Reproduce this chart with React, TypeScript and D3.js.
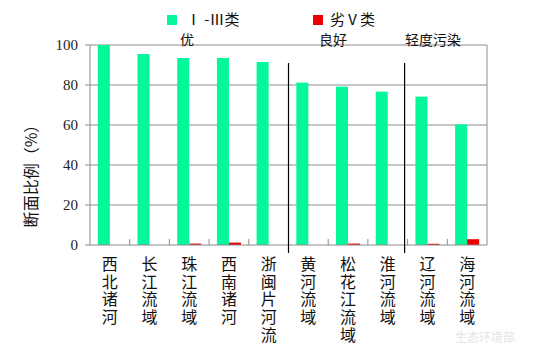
import React from "react";
import * as d3 from "d3";

const categories = ["西北诸河", "长江流域", "珠江流域", "西南诸河", "浙闽片河流", "黄河流域", "松花江流域", "淮河流域", "辽河流域", "海河流域"];
const seriesNames = ["Ⅰ-Ⅲ类", "劣Ⅴ类"];
const goodValues = [100, 95.5, 93.5, 93.5, 91.5, 81.2, 79.2, 76.7, 74.2, 60.3];
const badValues = [0, 0, 0.7, 1.2, 0, 0, 0.7, 0, 0.6, 2.9];
const yTicks = [0, 20, 40, 60, 80, 100];
const groups = [
  { label: "优", from: 0, to: 4 },
  { label: "良好", from: 5, to: 7 },
  { label: "轻度污染", from: 8, to: 9 },
];
const colors = ["#05F79C", "#EE0000"];

const W = 534, H = 352;
const left = 90, right = 487, top = 45, bottom = 245;

export default function App() {
  const x = d3.scaleBand<string>().domain(categories).range([left, right]).padding(0);
  const sub = d3.scaleBand<string>().domain(seriesNames).range([0, x.bandwidth()]).paddingInner(0).paddingOuter(0.65);
  const y = d3.scaleLinear().domain([0, 100]).range([bottom, top]);
  const cjk = "'Noto Sans CJK SC', sans-serif";
  const serif = "'Liberation Serif', 'Times New Roman', serif";
  const seps = [5, 8];
  const groupCenters = [187, 333, 433];

  return (
    <svg width={W} height={H} style={{ position: "absolute", left: 0, top: 0, background: "#fff" }}>
      <rect x={0} y={0} width={W} height={H} fill="#fff" />
      {yTicks.filter(t => t > 0).map(t => (
        <line key={t} x1={left} x2={right} y1={y(t)} y2={y(t)} stroke="#8c8c8c" strokeWidth={1} />
      ))}
      <line x1={right} x2={right} y1={top} y2={bottom} stroke="#8c8c8c" />
      {categories.map((c, i) => (
        <g key={c}>
          <rect x={x(c)! + sub(seriesNames[0])!} y={y(goodValues[i])} width={sub.bandwidth()} height={bottom - y(goodValues[i])} fill={colors[0]} />
          {badValues[i] > 0 && (
            <rect x={x(c)! + sub(seriesNames[1])!} y={y(badValues[i])} width={sub.bandwidth()} height={bottom - y(badValues[i])} fill={colors[1]} />
          )}
        </g>
      ))}
      <line x1={left} x2={left} y1={top} y2={bottom} stroke="#8c8c8c" />
      <line x1={left} x2={right} y1={bottom} y2={bottom} stroke="#8c8c8c" />
      {yTicks.map(t => (
        <g key={t}>
          <line x1={left - 5} x2={left} y1={y(t)} y2={y(t)} stroke="#8c8c8c" />
          <text x={78} y={y(t) + 5} textAnchor="end" fontFamily={serif} fontSize={15} fill="#222">{t}</text>
        </g>
      ))}
      {categories.slice(1).map(c => (
        <line key={c} x1={x(c)!} x2={x(c)!} y1={bottom - 6} y2={bottom} stroke="#8c8c8c" />
      ))}
      {seps.map((s, k) => (
        <line key={s} x1={x(categories[s])! - (k === 0 ? 0 : 3)} x2={x(categories[s])! - (k === 0 ? 0 : 3)} y1={63} y2={253} stroke="#000" strokeWidth={1.2} />
      ))}
      {groups.map((g, k) => (
        <text key={g.label} x={groupCenters[k]} y={45} textAnchor="middle" fontFamily={cjk} fontSize={14} fill="#111">{g.label}</text>
      ))}
      {categories.map(c => (
        <g key={c}>
          {Array.from(c).map((ch, j) => (
            <text key={j} x={x(c)! + x.bandwidth() / 2} y={270 + j * 17.7} fontFamily={cjk} fontSize={16} fill="#111" textAnchor="middle">{ch}</text>
          ))}
        </g>
      ))}
      <text transform={`translate(37,172) rotate(-90)`} textAnchor="middle" fontFamily={cjk} fontSize={16} fill="#111">断面比例（%）</text>
      <rect x={167} y={15} width={10} height={10} fill={colors[0]} />
      <text x={186} y={25} fontFamily={cjk} fontSize={15} fill="#111">Ⅰ -Ⅲ类</text>
      <rect x={313} y={15} width={10} height={10} fill={colors[1]} />
      <text x={330} y={25} fontFamily={cjk} fontSize={15} fill="#111">劣Ⅴ类</text>
      <text x={455} y={342} textAnchor="start" fontFamily={cjk} fontSize={12} fill="#e4e4e4">生态环境部</text>
    </svg>
  );
}
